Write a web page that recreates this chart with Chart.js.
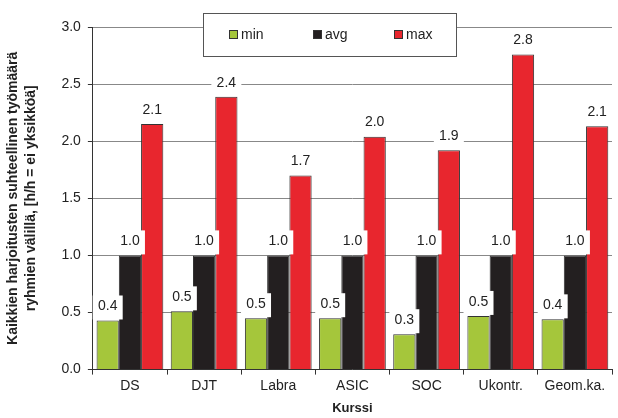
<!DOCTYPE html>
<html>
<head>
<meta charset="utf-8">
<script src="https://cdn.jsdelivr.net/npm/chart.js@4/dist/chart.umd.min.js"></script>
<style>
  html, body { margin: 0; padding: 0; background: #fff; }
  #wrap { width: 618px; height: 418px; }
</style>
</head>
<body>
<div id="wrap"><canvas id="chart" width="618" height="418"></canvas></div>
<script>
// data
var courses = ['DS', 'DJT', 'Labra', 'ASIC', 'SOC', 'Ukontr.', 'Geom.ka.'];
var minValues = [0.43, 0.51, 0.45, 0.45, 0.31, 0.47, 0.44];
var avgValues = [1.0, 1.0, 1.0, 1.0, 1.0, 1.0, 1.0];
var maxValues = [2.15, 2.39, 1.70, 2.04, 1.92, 2.76, 2.13];
var seriesNames = ['min', 'avg', 'max'];
var seriesColors = ['#a5c63b', '#231f20', '#e8262e'];

var FONT = 'Liberation Sans, Arial, sans-serif';

// value labels with white box above each bar
var barLabels = {
    id: 'barLabels',
    afterDatasetsDraw: function(chart) {
        var ctx = chart.ctx;
        ctx.save();
        ctx.font = '14px ' + FONT;
        ctx.textAlign = 'center';
        ctx.textBaseline = 'middle';
        chart.data.datasets.forEach(function(ds, i) {
            chart.getDatasetMeta(i).data.forEach(function(bar, j) {
                var txt = ds.data[j].toFixed(1);
                var w = 30;
                var h = 24;
                var top = bar.y - h - 1;
                ctx.fillStyle = '#fff';
                ctx.fillRect(bar.x - w / 2, top, w, h);
                ctx.fillStyle = '#222';
                ctx.fillText(txt, bar.x, bar.y - 14);
            });
        });
        ctx.restore();
    }
};

// boxed legend on top of the plot
var boxLegend = {
    id: 'boxLegend',
    afterDraw: function(chart) {
        var ctx = chart.ctx;
        ctx.save();
        ctx.fillStyle = '#fff';
        ctx.fillRect(203, 13, 253, 43);
        ctx.strokeStyle = '#555';
        ctx.lineWidth = 1;
        ctx.strokeRect(203.5, 13.5, 253, 43);
        ctx.font = '14px ' + FONT;
        ctx.textBaseline = 'middle';
        ctx.textAlign = 'left';
        var xs = [229, 313, 394];
        seriesNames.forEach(function(name, i) {
            ctx.fillStyle = seriesColors[i];
            ctx.fillRect(xs[i], 30, 9, 9);
            ctx.strokeStyle = '#333';
            ctx.strokeRect(xs[i] + 0.5, 30.5, 8, 8);
            ctx.fillStyle = '#222';
            ctx.fillText(name, xs[i] + 12, 35);
        });
        ctx.restore();
    }
};

var dataArrays = [minValues, avgValues, maxValues];

new Chart(document.getElementById('chart').getContext('2d'), {
    type: 'bar',
    data: {
        labels: courses,
        datasets: seriesNames.map(function(name, i) {
            return {
                label: name,
                data: dataArrays[i],
                backgroundColor: seriesColors[i],
                borderColor: '#333',
                borderWidth: 1,
                barPercentage: 1.0,
                categoryPercentage: 0.9
            };
        })
    },
    options: {
        responsive: false,
        animation: false,
        layout: { padding: { top: 27, right: 6, left: 4, bottom: 2 } },
        plugins: {
            legend: { display: false },
            tooltip: { enabled: false }
        },
        scales: {
            x: {
                grid: { display: true, drawOnChartArea: false, drawTicks: true, tickLength: 5, color: '#333', offset: true },
                border: { color: '#333' },
                ticks: { color: '#222', font: { family: FONT, size: 14 }, padding: 3 },
                title: { display: true, text: 'Kurssi', color: '#222', font: { family: FONT, size: 13, weight: 'bold' }, padding: { top: 3, bottom: 0 } }
            },
            y: {
                min: 0,
                max: 3.0,
                ticks: {
                    stepSize: 0.5,
                    color: '#222',
                    font: { family: FONT, size: 14 },
                    padding: 7,
                    callback: function(v) { return v.toFixed(1); }
                },
                grid: { color: '#888', tickLength: 5, tickColor: '#333' },
                border: { color: '#333' },
                title: {
                    display: true,
                    text: ['Kaikkien harjoitusten suhteellinen työmäärä', 'ryhmien välillä, [h/h = ei yksikköä]'],
                    color: '#222',
                    font: { family: FONT, size: 14, weight: 'bold', lineHeight: 1.3 },
                    padding: { top: 0, bottom: 14 }
                }
            }
        }
    },
    plugins: [barLabels, boxLegend]
});
</script>
</body>
</html>
